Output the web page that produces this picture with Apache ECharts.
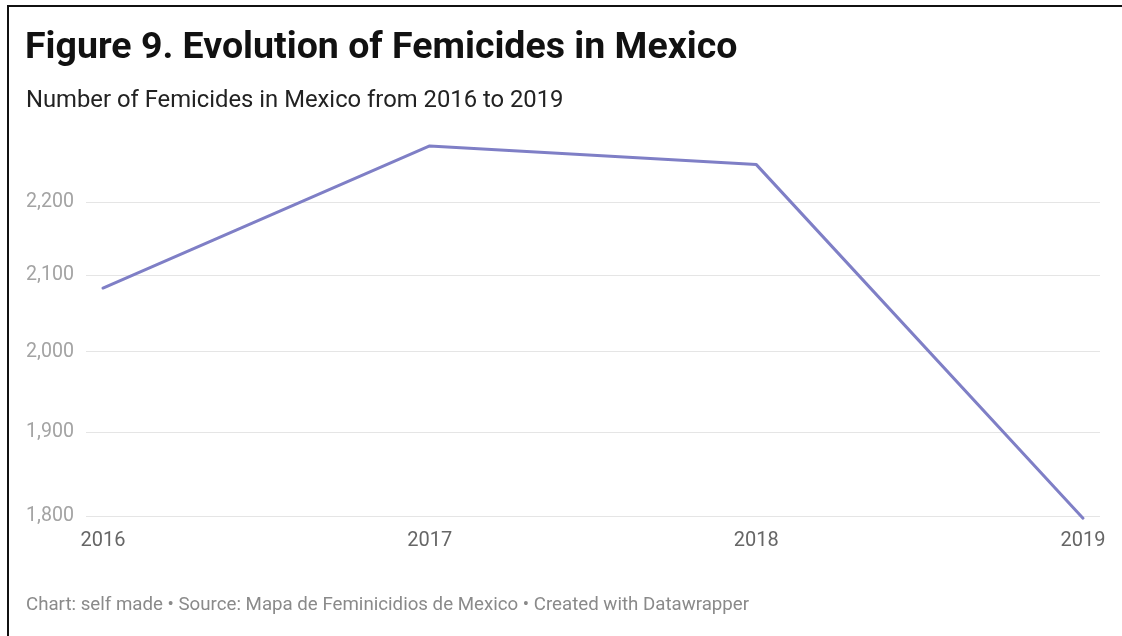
<!DOCTYPE html>
<html>
<head>
<meta charset="utf-8">
<script src="https://cdn.jsdelivr.net/npm/echarts@6/dist/echarts.min.js"></script>
<style>
html,body{margin:0;padding:0;background:#fff;}
#chart{width:1122px;height:636px;}
</style>
</head>
<body>
<div id="chart"></div>
<script>
const years = [2016, 2017, 2018, 2019];
const femicides = [2083, 2281, 2254, 1798];
const yTicks = [1800, 1900, 2000, 2100, 2200];
const titleText = 'Figure 9. Evolution of Femicides in Mexico';
const subtitleText = 'Number of Femicides in Mexico from 2016 to 2019';
const footerText = 'Chart: self made \u2022 Source: Mapa de Feminicidios de Mexico \u2022 Created with Datawrapper';

const chart = echarts.init(document.getElementById('chart'), null, {renderer: 'canvas'});
const font = 'Roboto, "Noto Sans", sans-serif';
chart.setOption({
  animation: false,
  backgroundColor: '#fff',
  textStyle: {fontFamily: font},
  title: [
    {text: titleText, left: 20, top: 25, textStyle: {fontFamily: font, fontSize: 37.5, fontWeight: 'bold', color: '#111'}},
    {text: subtitleText, left: 21, top: 84, textStyle: {fontFamily: font, fontSize: 23.8, fontWeight: 'normal', color: '#222'}},
    {text: footerText, left: 21, top: 591, textStyle: {fontFamily: font, fontSize: 18.7, fontWeight: 'normal', color: '#8a8a8a'}}
  ],
  graphic: [
    {type: 'rect', shape: {x: 8, y: 6, width: 1300, height: 800}, style: {fill: 'none', stroke: '#111', lineWidth: 2}, silent: true}
  ],
  grid: {left: 86, right: 22, top: 133, bottom: 102, containLabel: false},
  xAxis: {
    type: 'value',
    min: 2015.948,
    max: 2019.052,
    axisLine: {show: false},
    axisTick: {show: false, customValues: years},
    splitLine: {show: false},
    axisLabel: {customValues: years, formatter: v => String(v), color: '#666', fontSize: 20, margin: -3, fontFamily: font}
  },
  yAxis: {
    type: 'log',
    min: 1780,
    max: 2300,
    axisLine: {show: false},
    axisTick: {show: false, customValues: yTicks},
    splitLine: {show: true, lineStyle: {color: '#e5e5e5', width: 1}},
    axisLabel: {customValues: yTicks, formatter: v => Number(v).toLocaleString('en-US'), color: '#a3a3a3', fontSize: 19.6, margin: 12, fontFamily: font}
  },
  series: [{
    type: 'line',
    data: years.map((y, i) => [y, femicides[i]]),
    showSymbol: false,
    symbol: 'none',
    lineStyle: {color: '#7f7fc6', width: 3, cap: 'round', join: 'round'},
    itemStyle: {color: '#7f7fc6'}
  }]
});
</script>
</body>
</html>
